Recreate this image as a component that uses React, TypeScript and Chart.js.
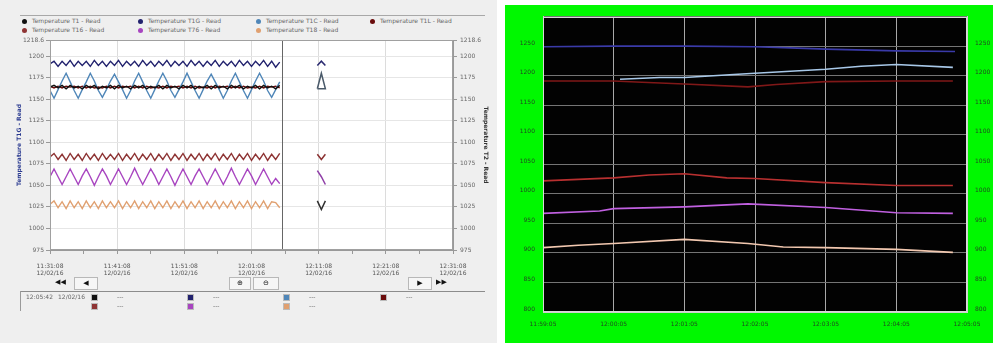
import React, { useEffect, useRef } from "react";
import { Chart, registerables } from "chart.js";

Chart.register(...registerables);

const FONT = "'DejaVu Sans', 'Liberation Sans', sans-serif";

// ---------------- Left chart data ----------------
const leftSeriesNames = [
  "Temperature T1 - Read",
  "Temperature T1G - Read",
  "Temperature T1C - Read",
  "Temperature T1L - Read",
  "Temperature T16 - Read",
  "Temperature T76 - Read",
  "Temperature T18 - Read",
];
const leftSeriesColors = ["#111111", "#22226e", "#4f86b8", "#6a0c0c", "#8e3434", "#a845c0", "#e0a070"];
const leftTimeLabels = ["11:31:08", "11:41:08", "11:51:08", "12:01:08", "12:11:08", "12:21:08", "12:31:08"];
const leftDateLabel = "12/02/16";
const LEFT_STEP_MIN = 0.6; // sample interval, minutes from 11:31:08
const CURSOR_MIN = 34.57; // 12:05:42
const cursorTimeLabel = "12:05:42";
const leftYMin = 975;
const leftYMax = 1218.6;
const leftYStep = 25;

const t1Black = [
  1164, 1166, 1163, 1166, 1162, 1166, 1163, 1165, 1162, 1166,
  1163, 1166, 1162, 1165, 1163, 1166, 1162, 1166, 1163, 1165,
  1162, 1166, 1163, 1166, 1162, 1165, 1163, 1166, 1162, 1166,
  1163, 1165, 1162, 1166, 1163, 1166, 1162, 1165, 1163, 1166,
  1162, 1166, 1163, 1165, 1162, 1166, 1163, 1166, 1162, 1165,
  1163, 1166, 1162, 1166, 1163, 1165, 1162, 1166,
];
const t1gNavy = [
  1191, 1194, 1188, 1194, 1189, 1195, 1188, 1194, 1189, 1194,
  1188, 1195, 1189, 1194, 1188, 1194, 1189, 1195, 1188, 1194,
  1189, 1194, 1188, 1195, 1189, 1194, 1188, 1194, 1189, 1195,
  1188, 1194, 1189, 1194, 1188, 1195, 1189, 1194, 1188, 1194,
  1189, 1195, 1188, 1194, 1189, 1194, 1188, 1195, 1189, 1194,
  1188, 1194, 1189, 1195, 1188, 1194, 1187, 1193,
];
const t1cSteel = [
  1160,
  1151, 1161, 1171, 1180, 1170, 1160,
  1151, 1161, 1170, 1180, 1171, 1160,
  1152, 1161, 1171, 1179, 1170, 1161,
  1151, 1160, 1171, 1180, 1170, 1160,
  1151, 1161, 1171, 1180, 1171, 1160,
  1152, 1161, 1170, 1180, 1170, 1160,
  1151, 1161, 1171, 1179, 1170, 1161,
  1151, 1160, 1171, 1180, 1170, 1160,
  1151, 1161, 1171, 1180, 1171, 1160,
  1152, 1161, 1170,
];
const t1lMaroon = [
  1165, 1163, 1165, 1163, 1165, 1164, 1165, 1163, 1165, 1163,
  1165, 1163, 1164, 1163, 1165, 1163, 1165, 1163, 1165, 1164,
  1165, 1163, 1165, 1163, 1165, 1163, 1164, 1163, 1165, 1163,
  1165, 1164, 1165, 1163, 1165, 1163, 1165, 1163, 1164, 1163,
  1165, 1163, 1165, 1164, 1165, 1163, 1165, 1163, 1165, 1163,
  1164, 1163, 1165, 1163, 1165, 1164, 1165, 1163,
];
const t16Red = [
  1083, 1087, 1080, 1086, 1079, 1087, 1080, 1086, 1079, 1087,
  1080, 1086, 1079, 1087, 1080, 1086, 1080, 1087, 1079, 1086,
  1080, 1087, 1079, 1086, 1080, 1087, 1079, 1086, 1080, 1087,
  1079, 1086, 1080, 1087, 1079, 1086, 1080, 1087, 1079, 1086,
  1080, 1087, 1079, 1086, 1080, 1087, 1079, 1086, 1080, 1087,
  1079, 1086, 1080, 1087, 1079, 1086, 1080, 1087,
];
const t76Purple = [
  1060, 1069, 1060, 1051, 1060, 1069, 1060, 1051, 1061, 1069,
  1060, 1050, 1060, 1069, 1061, 1051, 1060, 1069, 1060, 1051,
  1060, 1070, 1060, 1051, 1060, 1069, 1061, 1051, 1060, 1069,
  1060, 1050, 1060, 1069, 1060, 1051, 1061, 1069, 1060, 1051,
  1060, 1069, 1060, 1051, 1060, 1070, 1060, 1051, 1060, 1069,
  1061, 1051, 1060, 1069, 1060, 1051, 1058, 1052,
];
const t18Peach = [
  1028, 1032, 1024, 1031, 1023, 1032, 1024, 1031, 1023, 1032,
  1024, 1031, 1023, 1032, 1024, 1031, 1024, 1032, 1023, 1031,
  1024, 1032, 1023, 1031, 1024, 1032, 1023, 1031, 1024, 1032,
  1023, 1031, 1024, 1032, 1023, 1031, 1024, 1032, 1023, 1031,
  1024, 1032, 1023, 1031, 1024, 1032, 1023, 1031, 1024, 1032,
  1023, 1031, 1024, 1032, 1023, 1031, 1030, 1024,
];
const leftSeriesValues = [t1Black, t1gNavy, t1cSteel, t1lMaroon, t16Red, t76Purple, t18Peach];

// short burst of samples after the cursor (~12:11)
const spikeTimes = [39.8, 40.4, 41.0, 39.8];
const spikeNavy = [1189, 1194, 1189, null];
const spikeSteel = [1162, 1180, 1162, 1162];
const spikeRed = [1086, 1080, 1086, null];
const spikePurple = [1067, 1060, 1051, null];
const spikePeach = [1032, 1022, 1032, null];
const spikeSeries = [spikeNavy, spikeSteel, spikeRed, spikePurple, spikePeach];
const spikeColors = ["#2a2a70", "#4a5a6a", "#8a3030", "#9040a8", "#303030"];

// ---------------- Right chart data ----------------
const rightTimeLabels = ["11:59:05", "12:00:05", "12:01:05", "12:02:05", "12:03:05", "12:04:05", "12:05:05"];
const rightYMin = 800;
const rightYMax = 1300;
const rightYStep = 50;
const rightColors = ["#3a3aa8", "#a8c8e8", "#801818", "#b83030", "#c060e0", "#f2c8b0"];

const rNavyX = [0, 1, 2, 3, 3.5, 4, 5, 5.83];
const rNavyY = [1249, 1250, 1250, 1249, 1247, 1245, 1242, 1241];
const rBlueX = [1.09, 1.65, 2, 2.7, 3, 4, 4.5, 5, 5.8];
const rBlueY = [1194, 1197, 1197, 1202, 1204, 1211, 1216, 1219, 1214];
const rMaroonX = [0, 1, 1.4, 2, 2.9, 3.3, 4, 5, 5.8];
const rMaroonY = [1191, 1191, 1189, 1186, 1181, 1185, 1190, 1191, 1191];
const rRedX = [0, 1, 1.5, 2, 2.6, 3, 4, 5, 5.8];
const rRedY = [1022, 1027, 1032, 1034, 1027, 1026, 1019, 1014, 1014];
const rPurpleX = [0, 0.8, 1, 2, 2.9, 4, 5, 5.8];
const rPurpleY = [967, 971, 975, 978, 983, 977, 968, 967];
const rPeachX = [0, 0.5, 1, 2, 2.9, 3.4, 4, 5, 5.8];
const rPeachY = [909, 913, 916, 923, 916, 910, 909, 906, 901];
const rightSeries = [
  [rNavyX, rNavyY],
  [rBlueX, rBlueY],
  [rMaroonX, rMaroonY],
  [rRedX, rRedY],
  [rPurpleX, rPurpleY],
  [rPeachX, rPeachY],
];

// ---------------- plugins ----------------
function areaPlugin(id: string, fill: string, border: string) {
  return {
    id,
    beforeDraw(chart: any) {
      const { ctx, chartArea: a } = chart;
      ctx.save();
      ctx.fillStyle = fill;
      ctx.fillRect(a.left, a.top, a.right - a.left, a.bottom - a.top);
      ctx.restore();
    },
    afterDraw(chart: any) {
      const { ctx, chartArea: a } = chart;
      ctx.save();
      ctx.strokeStyle = border;
      ctx.lineWidth = 1;
      ctx.strokeRect(Math.round(a.left) + 0.5, Math.round(a.top) + 0.5, Math.round(a.right - a.left) - 1, Math.round(a.bottom - a.top) - 1);
      ctx.restore();
    },
  };
}

const cursorPlugin = {
  id: "cursor",
  afterDatasetsDraw(chart: any) {
    const { ctx, chartArea: a } = chart;
    const x = Math.round(chart.scales.x.getPixelForValue(CURSOR_MIN)) + 0.5;
    ctx.save();
    ctx.strokeStyle = "#666";
    ctx.lineWidth = 1;
    ctx.beginPath();
    ctx.moveTo(x, a.top);
    ctx.lineTo(x, a.bottom);
    ctx.stroke();
    ctx.restore();
  },
};

function leftConfig(): any {
  const datasets: any[] = leftSeriesValues.map((vals, s) => ({
    label: leftSeriesNames[s],
    data: vals.map((v, i) => ({ x: i * LEFT_STEP_MIN, y: v })),
    borderColor: leftSeriesColors[s],
    borderWidth: 1.4,
    pointRadius: 0,
    tension: 0,
    yAxisID: "y",
  }));
  spikeSeries.forEach((vals, s) => {
    datasets.push({
      label: "spike" + s,
      data: vals.map((v, i) => ({ x: spikeTimes[i], y: v })),
      borderColor: spikeColors[s],
      borderWidth: 1.5,
      pointRadius: 0,
      tension: 0,
      spanGaps: false,
      yAxisID: "y",
    });
  });
  const tickFont = { size: 6, family: FONT };
  const yLabel = (v: number) => (Number.isInteger(v) ? String(v) : v.toFixed(1));
  return {
    type: "line",
    data: { datasets },
    options: {
      animation: false,
      responsive: false,
      maintainAspectRatio: false,
      layout: { padding: { top: 40, left: 0, right: 0, bottom: 0 } },
      plugins: { legend: { display: false }, tooltip: { enabled: false } },
      scales: {
        x: {
          type: "linear",
          min: 0,
          max: 60,
          afterFit: (s: any) => { s.height = 40; },
          ticks: {
            stepSize: 5,
            autoSkip: false,
            maxRotation: 0,
            padding: 9,
            font: tickFont,
            color: "#555",
            callback: (v: number) => {
              const k = Math.round(v);
              if (k % 10 !== 0) return "";
              return [leftTimeLabels[k / 10], leftDateLabel];
            },
          },
          grid: {
            color: (c: any) => (c.tick && Math.round(c.tick.value) % 10 === 0 ? "#dcdcdc" : "rgba(0,0,0,0)"),
            tickColor: "#999",
            tickLength: 4,
          },
          border: { color: "#999" },
        },
        y: {
          type: "linear",
          position: "left",
          min: leftYMin,
          max: leftYMax,
          afterFit: (s: any) => { s.width = 50; },
          ticks: { stepSize: leftYStep, font: tickFont, color: "#666", padding: 2, callback: yLabel },
          grid: { color: "#e6e6e6", tickLength: 4, tickColor: "#999" },
          border: { color: "#999" },
          title: {
            display: true,
            text: leftSeriesNames[1],
            color: "#2a3a90",
            font: { size: 6, family: FONT, weight: "bold" },
            padding: { top: 16, bottom: 0 },
          },
        },
        y2: {
          type: "linear",
          position: "right",
          min: leftYMin,
          max: leftYMax,
          afterFit: (s: any) => { s.width = 44; },
          ticks: { stepSize: leftYStep, font: tickFont, color: "#666", padding: 3, callback: yLabel },
          grid: { drawOnChartArea: false, tickLength: 4, tickColor: "#999" },
          border: { color: "#999" },
          title: {
            display: true,
            text: "Temperature T2 - Read",
            color: "#333",
            font: { size: 6, family: FONT, weight: "bold" },
            padding: { top: 8, bottom: 0 },
          },
        },
      },
    },
    plugins: [areaPlugin("leftArea", "#ffffff", "#a0a0a0"), cursorPlugin],
  };
}

function rightConfig(): any {
  const datasets = rightSeries.map(([xs, ys], s) => ({
    label: "r" + s,
    data: xs.map((x, i) => ({ x, y: ys[i] })),
    borderColor: rightColors[s],
    borderWidth: 1.6,
    pointRadius: 0,
    tension: 0,
    yAxisID: "y",
  }));
  const tickFont = { size: 6, family: FONT };
  return {
    type: "line",
    data: { datasets },
    options: {
      animation: false,
      responsive: false,
      maintainAspectRatio: false,
      layout: { padding: { top: 10, left: 0, right: 0, bottom: 0 } },
      plugins: { legend: { display: false }, tooltip: { enabled: false } },
      scales: {
        x: {
          type: "linear",
          min: 0,
          max: 6,
          afterFit: (s: any) => { s.height = 31; },
          ticks: {
            stepSize: 1,
            autoSkip: false,
            maxRotation: 0,
            padding: 9,
            font: tickFont,
            color: "#1f4a1f",
            callback: (v: number) => rightTimeLabels[Math.round(v)] ?? "",
          },
          grid: { color: "#a8a8a8", drawTicks: false },
          border: { color: "#d0d0d0" },
        },
        y: {
          type: "linear",
          position: "left",
          min: rightYMin,
          max: rightYMax,
          afterFit: (s: any) => { s.width = 38; },
          ticks: {
            stepSize: rightYStep,
            font: tickFont,
            color: "#1f4a1f",
            padding: 8,
            labelOffset: -3,
            callback: (v: number) => (v >= rightYMax ? "" : String(v)),
          },
          grid: { color: "#747474", drawTicks: false },
          border: { color: "#d0d0d0" },
        },
        y2: {
          type: "linear",
          position: "right",
          min: rightYMin,
          max: rightYMax,
          afterFit: (s: any) => { s.width = 26; },
          ticks: {
            stepSize: rightYStep,
            font: tickFont,
            color: "#1f4a1f",
            padding: 8,
            labelOffset: -3,
            callback: (v: number) => (v >= rightYMax ? "" : String(v)),
          },
          grid: { drawOnChartArea: false, drawTicks: false },
          border: { color: "#d0d0d0" },
        },
      },
    },
    plugins: [areaPlugin("rightArea", "#020202", "#d8d8d8")],
  };
}

// ---------------- UI bits ----------------
const legendCols = [22, 138, 256, 370];
const legendRows = [21, 30];

function Marker({ color, round }: { color: string; round: boolean }) {
  return (
    <span
      style={{
        display: "inline-block",
        width: 5,
        height: 5,
        borderRadius: round ? "50%" : 0,
        background: color,
        border: round ? "none" : "1px solid #bbb",
        marginRight: 5,
        flex: "none",
      }}
    />
  );
}

const smallText: React.CSSProperties = {
  position: "absolute",
  fontFamily: FONT,
  fontSize: 6,
  lineHeight: "8px",
  color: "#666",
  whiteSpace: "nowrap",
};

function Btn({ left, top, w, label }: { left: number; top: number; w: number; label: string }) {
  return (
    <div
      style={{
        ...smallText,
        left,
        top,
        width: w,
        height: 11,
        border: "1px solid #b8b8b8",
        background: "#f6f6f6",
        textAlign: "center",
        lineHeight: "11px",
        fontSize: 7,
        color: "#111",
      }}
    >
      {label}
    </div>
  );
}

export default function App() {
  const leftRef = useRef<HTMLCanvasElement>(null);
  const rightRef = useRef<HTMLCanvasElement>(null);

  useEffect(() => {
    document.body.style.margin = "0";
    const c1 = new Chart(leftRef.current as HTMLCanvasElement, leftConfig());
    const c2 = new Chart(rightRef.current as HTMLCanvasElement, rightConfig());
    return () => {
      c1.destroy();
      c2.destroy();
    };
  }, []);

  return (
    <div style={{ position: "fixed", left: 0, top: 0, width: 993, height: 343, background: "#ffffff", overflow: "hidden" }}>
      {/* Left panel */}
      <div style={{ position: "absolute", left: 0, top: 0, width: 497, height: 343, background: "#efefef" }}>
        <div style={{ position: "absolute", left: 20, top: 15, width: 465, height: 1, background: "#a8a8a8" }} />
        {leftSeriesNames.map((name, i) => {
          const row = i < 4 ? 0 : 1;
          const col = i < 4 ? i : i - 4;
          return (
            <div
              key={name}
              style={{ ...smallText, left: legendCols[col], top: legendRows[row] - 4, display: "flex", alignItems: "center", height: 8 }}
            >
              <Marker color={leftSeriesColors[i]} round={true} />
              <span>{name}</span>
            </div>
          );
        })}
        <canvas ref={leftRef} width={497} height={290} style={{ position: "absolute", left: 0, top: 0, width: 497, height: 290 }} />
        {/* navigation row */}
        <div style={{ ...smallText, left: 55, top: 278, fontSize: 7, color: "#111" }}>◀◀</div>
        <Btn left={74} top={277} w={22} label="◀" />
        <Btn left={229} top={277} w={20} label="⊕" />
        <Btn left={253} top={277} w={24} label="⊖" />
        <Btn left={408} top={277} w={22} label="▶" />
        <div style={{ ...smallText, left: 436, top: 278, fontSize: 7, color: "#111" }}>▶▶</div>
        <div style={{ position: "absolute", left: 20, top: 291, width: 465, height: 1, background: "#8c8c8c" }} />
        <div style={{ position: "absolute", left: 20, top: 291, width: 1, height: 20, background: "#9a9a9a" }} />
        {/* status rows */}
        <div style={{ ...smallText, left: 26, top: 293 }}>{cursorTimeLabel}</div>
        <div style={{ ...smallText, left: 58, top: 293 }}>{leftDateLabel}</div>
        {leftSeriesNames.map((name, i) => {
          const row = i < 4 ? 0 : 1;
          const col = i < 4 ? i : i - 4;
          const cols = [91, 187, 283, 380];
          return (
            <div
              key={"s" + name}
              style={{ ...smallText, left: cols[col], top: [297, 306][row] - 4, display: "flex", alignItems: "center", height: 8 }}
            >
              <Marker color={leftSeriesColors[i]} round={false} />
              <span style={{ marginLeft: 14 }}>---</span>
            </div>
          );
        })}
      </div>
      {/* Right panel */}
      <div style={{ position: "absolute", left: 505, top: 5, width: 488, height: 338, background: "#00f800" }}>
        <canvas ref={rightRef} width={488} height={338} style={{ position: "absolute", left: 0, top: 0, width: 488, height: 338 }} />
      </div>
    </div>
  );
}
